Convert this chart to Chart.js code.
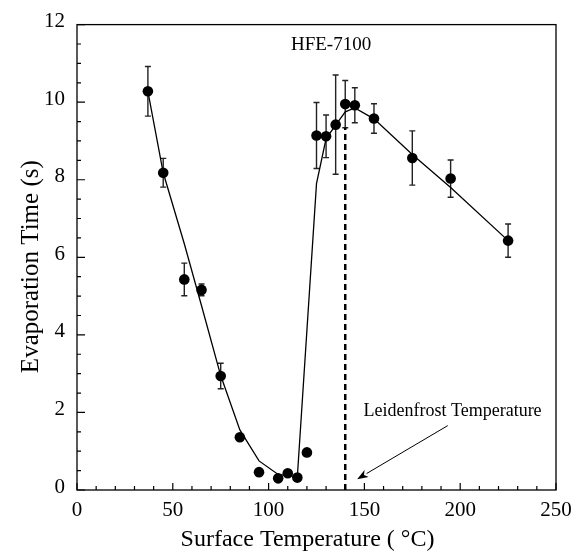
<!DOCTYPE html>
<html><head><meta charset="utf-8">
<script src="https://cdn.jsdelivr.net/npm/chart.js@4/dist/chart.umd.min.js"></script>
<style>html,body{margin:0;padding:0;background:#fff}#wrap{width:587px;height:557px}</style>
</head><body><div id="wrap"><canvas id="c" width="587" height="557"></canvas></div>
<script>
// Measured data (surface temperature in °C, evaporation time in s)
const temps      = [37, 45, 56, 65, 75, 85, 95, 105, 110, 115, 120, 125, 130, 135, 140, 145, 155, 175, 195, 225];
const evapTimes  = [10.28, 8.18, 5.43, 5.16, 2.94, 1.36, 0.46, 0.30, 0.43, 0.32, 0.97, 9.14, 9.12, 9.42, 9.95, 9.92, 9.58, 8.56, 8.03, 6.43];
const errors     = [0.64, 0.37, 0.42, 0.15, 0.33, 0, 0, 0, 0, 0, 0, 0.85, 0.55, 1.28, 0.61, 0.45, 0.38, 0.70, 0.48, 0.43];
// Trend curve
const fitTemps   = [37, 45, 56, 65, 75, 85, 95, 105, 115, 125, 130, 135, 140, 145, 155, 175, 195, 225];
const fitTimes   = [10.28, 8.18, 6.35, 4.75, 2.95, 1.55, 0.75, 0.40, 0.34, 7.9, 9.06, 9.41, 9.75, 9.85, 9.57, 8.65, 7.8, 6.43];
// Leidenfrost marker
const leidenfrostT = 140;
const leidenfrostTop = 9.34;
const xTicks = [0, 50, 100, 150, 200, 250];
const yTicks = [0, 2, 4, 6, 8, 10, 12];
const annotationTitle = 'HFE-7100';
const annotationLabel = 'Leidenfrost Temperature';
const titlePos = [132.6, 11.47];
const labelPos = [196, 2.03];
const arrowTail = [193.5, 1.66];
const arrowTip = [146.2, 0.28];

const FONT = '"Liberation Serif", "Times New Roman", serif';

const boxAndTicks = {
  id: 'boxAndTicks',
  afterDatasetsDraw(chart) {
    const {ctx, chartArea: a, scales: {x, y}} = chart;
    ctx.save();
    ctx.strokeStyle = '#000';
    ctx.lineWidth = 1.3;
    ctx.strokeRect(a.left, a.top, a.right - a.left, a.bottom - a.top);
    ctx.lineWidth = 1.2;
    ctx.beginPath();
    for (let v = 0; v <= 250; v += 10) {
      const px = x.getPixelForValue(v);
      const len = (v % 50 === 0) ? 7 : 4;
      ctx.moveTo(px, a.bottom); ctx.lineTo(px, a.bottom - len);
    }
    for (let v = 0; v <= 12; v += 0.5) {
      const py = y.getPixelForValue(v);
      const len = (Math.abs(v % 2) < 1e-9) ? 8 : 4;
      ctx.moveTo(a.left, py); ctx.lineTo(a.left + len, py);
    }
    ctx.stroke();
    ctx.restore();
  }
};

const errorBars = {
  id: 'errorBars',
  beforeDatasetsDraw(chart) {
    const {ctx, scales: {x, y}} = chart;
    ctx.save();
    ctx.strokeStyle = '#222';
    ctx.lineWidth = 1.4;
    ctx.beginPath();
    temps.forEach((t, i) => {
      const e = errors[i];
      if (!e) return;
      const px = x.getPixelForValue(t);
      const top = y.getPixelForValue(evapTimes[i] + e);
      const bot = y.getPixelForValue(evapTimes[i] - e);
      ctx.moveTo(px, top); ctx.lineTo(px, bot);
      ctx.moveTo(px - 3, top); ctx.lineTo(px + 3, top);
      ctx.moveTo(px - 3, bot); ctx.lineTo(px + 3, bot);
    });
    ctx.stroke();
    ctx.restore();
  }
};

const annotations = {
  id: 'annotations',
  afterDatasetsDraw(chart) {
    const {ctx, scales: {x, y}} = chart;
    ctx.save();
    ctx.fillStyle = '#000';
    ctx.textAlign = 'center';
    ctx.textBaseline = 'middle';
    ctx.font = '19px ' + FONT;
    ctx.fillText(annotationTitle, x.getPixelForValue(titlePos[0]), y.getPixelForValue(titlePos[1]));
    ctx.font = '18px ' + FONT;
    ctx.fillText(annotationLabel, x.getPixelForValue(labelPos[0]), y.getPixelForValue(labelPos[1]));
    // arrow
    const x1 = x.getPixelForValue(arrowTail[0]), y1 = y.getPixelForValue(arrowTail[1]);
    const x2 = x.getPixelForValue(arrowTip[0]), y2 = y.getPixelForValue(arrowTip[1]);
    const ang = Math.atan2(y2 - y1, x2 - x1);
    const hl = 11, hw = 4;
    const bx = x2 - hl * Math.cos(ang), by = y2 - hl * Math.sin(ang);
    ctx.strokeStyle = '#000';
    ctx.lineWidth = 1;
    ctx.beginPath();
    ctx.moveTo(x1, y1); ctx.lineTo(bx, by);
    ctx.stroke();
    ctx.beginPath();
    ctx.moveTo(x2, y2);
    ctx.lineTo(bx + hw * Math.sin(ang), by - hw * Math.cos(ang));
    ctx.lineTo(x2 - (hl - 3) * Math.cos(ang), y2 - (hl - 3) * Math.sin(ang));
    ctx.lineTo(bx - hw * Math.sin(ang), by + hw * Math.cos(ang));
    ctx.closePath();
    ctx.fill();
    ctx.restore();
  }
};

new Chart(document.getElementById('c'), {
  type: 'scatter',
  data: {
    datasets: [
      {
        label: 'Leidenfrost',
        data: [{x: leidenfrostT, y: 0}, {x: leidenfrostT, y: leidenfrostTop}],
        showLine: true, borderColor: '#000', borderWidth: 2.5, borderDash: [6, 4],
        pointRadius: 0, order: 3
      },
      {
        label: 'Fit',
        data: fitTemps.map((t, i) => ({x: t, y: fitTimes[i]})),
        showLine: true, borderColor: '#000', borderWidth: 1.3, pointRadius: 0, tension: 0, order: 2
      },
      {
        label: 'Measured',
        data: temps.map((t, i) => ({x: t, y: evapTimes[i]})),
        showLine: false, pointRadius: 5.3, pointBackgroundColor: '#000', pointBorderColor: '#000',
        pointBorderWidth: 0, order: 1
      }
    ]
  },
  options: {
    responsive: false,
    animation: false,
    layout: {padding: {top: 23, right: 31, left: 0, bottom: 0}},
    plugins: {legend: {display: false}, tooltip: {enabled: false}},
    scales: {
      x: {
        type: 'linear', min: 0, max: 250,
        afterFit: s => { s.height = 67; },
        afterBuildTicks: s => { s.ticks = xTicks.map(v => ({value: v})); },
        grid: {display: false, drawTicks: false},
        border: {display: false},
        ticks: {color: '#000', padding: 8, font: {family: FONT, size: 21}, maxRotation: 0},
        title: {display: true, text: 'Surface Temperature ( °C)\u00a0\u00a0\u00a0', color: '#000',
                font: {family: FONT, size: 24}, padding: {top: 0, bottom: 3}}
      },
      y: {
        type: 'linear', min: 0, max: 12,
        afterFit: s => { s.width = 77; },
        afterBuildTicks: s => { s.ticks = yTicks.map(v => ({value: v})); },
        grid: {display: false, drawTicks: false},
        border: {display: false},
        ticks: {color: '#000', padding: 12, labelOffset: -3, font: {family: FONT, size: 21}},
        title: {display: true, text: 'Evaporation Time (s)\u00a0\u00a0\u00a0', color: '#000',
                font: {family: FONT, size: 25}, padding: {top: 16, bottom: 0}}
      }
    }
  },
  plugins: [errorBars, boxAndTicks, annotations]
});
</script>
</body></html>
